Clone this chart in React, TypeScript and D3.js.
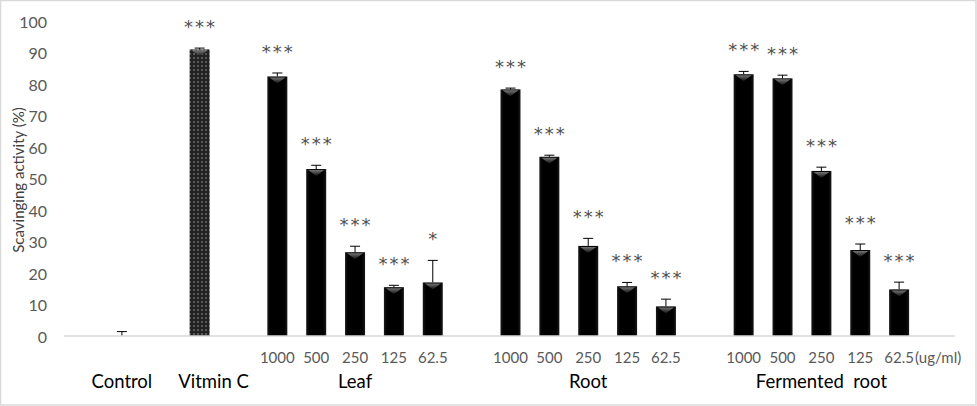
import React from "react";
import * as d3 from "d3";

const W = 977;
const H = 406;

const concentrations = ["1000", "500", "250", "125", "62.5"];
const groupNames = ["Leaf", "Root", "Fermented  root"];
const controlLabel = "Control";
const vitCLabel = "Vitmin C";
const controlMean = [0.0];
const controlErr = [1.4];
const vitCMean = [91.0];
const vitCErr = [0.4];
const leafMeans = [82.4, 53.0, 26.6, 15.5, 17.0];
const leafErr = [1.1, 1.2, 1.9, 0.6, 7.0];
const rootMeans = [78.3, 56.9, 28.6, 15.8, 9.4];
const rootErr = [0.4, 0.5, 2.4, 1.2, 2.3];
const fermMeans = [83.1, 81.8, 52.4, 27.3, 14.8];
const fermErr = [0.9, 1.0, 1.2, 1.9, 2.3];
const leafSig = ["***", "***", "***", "***", "*"];
const rootSig = ["***", "***", "***", "***", "***"];
const fermSig = ["***", "***", "***", "***", "***"];
const vitCSig = ["***"];
const yTicks = [0, 10, 20, 30, 40, 50, 60, 70, 80, 90, 100];
const yTitle = "Scavinging activity (%)";
const unitLabel = "(ug/ml)";

type Bar = { key: string; mean: number; err: number; sig: string; pattern?: boolean; tick?: string };

export default function App() {
  const bars: Bar[] = [];
  const slots: string[] = ["pad0"];
  slots.push("control");
  bars.push({ key: "control", mean: controlMean[0], err: controlErr[0], sig: "" });
  slots.push("gap1");
  slots.push("vitc");
  bars.push({ key: "vitc", mean: vitCMean[0], err: vitCErr[0], sig: vitCSig[0], pattern: true });
  slots.push("gap2");
  const groups = [
    { id: "leaf", means: leafMeans, errs: leafErr, sig: leafSig },
    { id: "root", means: rootMeans, errs: rootErr, sig: rootSig },
    { id: "ferm", means: fermMeans, errs: fermErr, sig: fermSig },
  ];
  groups.forEach((g, gi) => {
    concentrations.forEach((c, i) => {
      const k = g.id + "-" + c;
      slots.push(k);
      bars.push({ key: k, mean: g.means[i], err: g.errs[i], sig: g.sig[i], tick: c });
    });
    slots.push("gap" + (gi + 3));
  });

  const x = d3.scaleBand<string>().domain(slots).range([63.6, 957.4]).padding(0);
  const y = d3.scaleLinear().domain([0, 100]).range([336, 21]);
  const bw = 20;
  const cx = (k: string) => (x(k) as number) + x.bandwidth() / 2;
  const gray = "#595959";
  const font = "Lato, 'Open Sans', sans-serif";

  return (
    <svg width={W} height={H} style={{ position: "absolute", left: 0, top: 0, background: "#fff" }}>
      <defs>
        <pattern id="dots" width="4" height="4" patternUnits="userSpaceOnUse">
          <rect width="4" height="4" fill="#222" />
          <circle cx="2" cy="2" r="0.95" fill="#707070" />
        </pattern>
        <linearGradient id="topShade" x1="0" y1="0" x2="0" y2="1">
          <stop offset="0" stopColor="#8a8a8a" />
          <stop offset="1" stopColor="#111" />
        </linearGradient>
        <linearGradient id="barFill" x1="0" y1="0" x2="1" y2="0">
          <stop offset="0" stopColor="#1a1a1a" />
          <stop offset="0.15" stopColor="#000" />
          <stop offset="0.85" stopColor="#000" />
          <stop offset="1" stopColor="#1a1a1a" />
        </linearGradient>
      </defs>
      <rect x={0.5} y={0.5} width={W - 1.5} height={H - 1.5} fill="#fff" stroke="#d9d9d9" strokeWidth={1.5} />

      {yTicks.map((t) => (
        <text key={t} x={47} y={y(t)} textAnchor="end" dominantBaseline="central" fontFamily={font} fontSize={16} fill={gray}>
          {t}
        </text>
      ))}
      <text
        transform={`translate(18,${180}) rotate(-90)`}
        textAnchor="middle"
        dominantBaseline="central"
        fontFamily={font}
        fontSize={15}
        fill="#404040"
      >
        {yTitle}
      </text>

      {bars.map((b) => {
        const c = cx(b.key);
        const top = y(b.mean);
        const cap = y(b.mean + b.err);
        const h = y(0) - top;
        return (
          <g key={b.key}>
            {h > 0.5 && (
              <rect x={c - bw / 2} y={top} width={bw} height={h} fill={b.pattern ? "url(#dots)" : "url(#barFill)"} />
            )}
            {h > 6 && (
              <path
                d={`M${c - bw / 2 + 2},${top + 1} L${c + bw / 2 - 2},${top + 1} L${c},${top + 7} Z`}
                fill="url(#topShade)"
                opacity={0.85}
              />
            )}
            <line x1={c} x2={c} y1={top} y2={cap} stroke="#000" strokeWidth={1} />
            <line x1={c - 5} x2={c + 5} y1={cap} y2={cap} stroke="#000" strokeWidth={1} />
            {b.sig && (
              <text x={c + 1} y={cap - 15} textAnchor="middle" fontFamily="'DejaVu Sans', sans-serif" fontSize={18} letterSpacing={2} fill="#505050">
                {b.sig}
              </text>
            )}
            {b.tick && (
              <text x={c} y={357} textAnchor="middle" dominantBaseline="central" fontFamily={font} fontSize={15} fill={gray}>
                {b.tick}
              </text>
            )}
          </g>
        );
      })}

      <line x1={64} x2={955} y1={336} y2={336} stroke="#d9d9d9" strokeWidth={1.5} />

      <text x={cx("ferm-62.5") + 16} y={357} dominantBaseline="central" fontFamily={font} fontSize={15} fill={gray}>
        {unitLabel}
      </text>

      <text x={cx("control")} y={381} textAnchor="middle" dominantBaseline="central" fontFamily={font} fontSize={18.5} fill="#000">
        {controlLabel}
      </text>
      <text x={cx("vitc") + 14} y={381} textAnchor="middle" dominantBaseline="central" fontFamily={font} fontSize={18.5} fill="#000">
        {vitCLabel}
      </text>
      {groups.map((g, gi) => (
        <text
          key={g.id}
          x={cx(g.id + "-250")}
          y={381}
          textAnchor="middle"
          dominantBaseline="central"
          fontFamily={font}
          fontSize={18.5}
          fill="#000"
          style={{ whiteSpace: "pre" }}
        >
          {groupNames[gi]}
        </text>
      ))}
    </svg>
  );
}
